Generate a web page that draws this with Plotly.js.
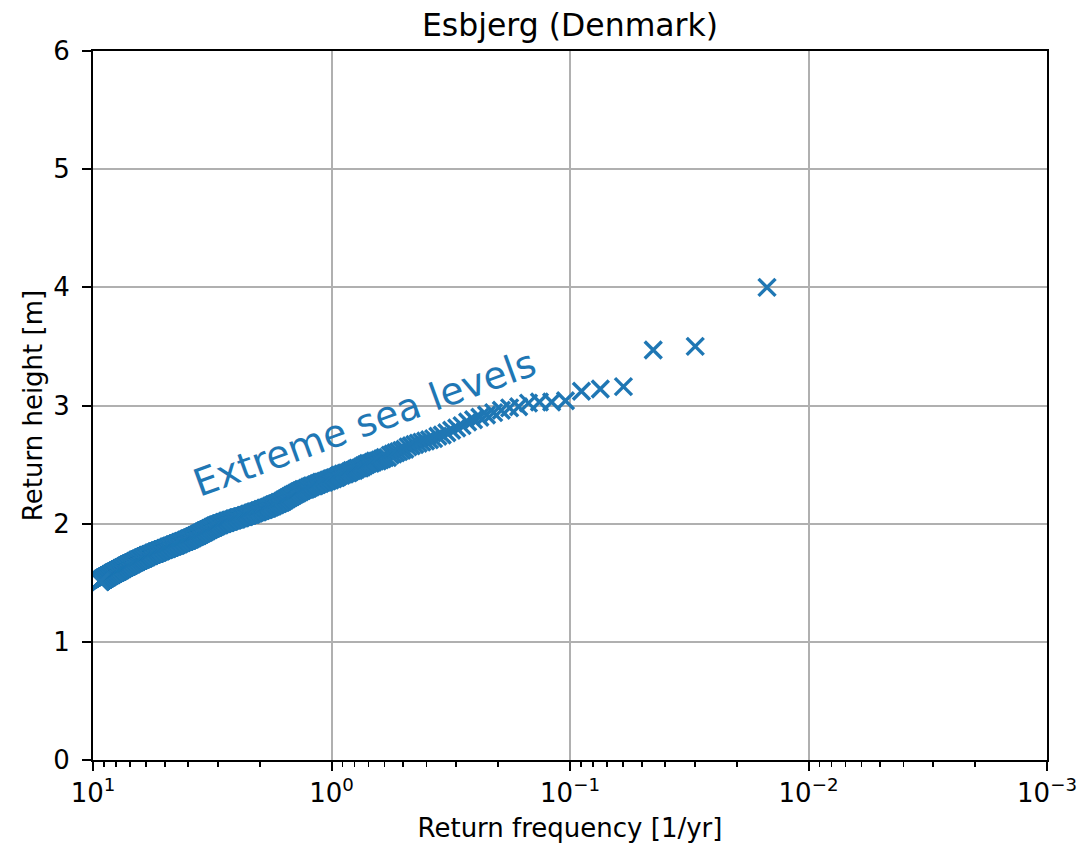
<!DOCTYPE html>
<html>
<head>
<meta charset="utf-8">
<script src="https://cdn.plot.ly/plotly-3.0.1.min.js"></script>
<style>html,body{margin:0;padding:0;background:#fff;}#chart{width:1081px;height:846px;}</style>
</head>
<body>
<div id="chart"></div>
<script>
// Observed extreme sea levels (m), sorted from highest to lowest, with number of events at each level
const levels = [
  4.00,3.50,3.47,3.16,3.14,3.12,3.04,3.03,3.02,2.99,
  2.98,2.96,2.94,2.92,2.90,2.88,2.86,2.83,2.81,2.79,
  2.77,2.75,2.74,2.72,2.71,2.70,2.69,2.68,2.67,2.66,
  2.65,2.63,2.62,2.61,2.60,2.59,2.58,2.56,2.55,2.54,
  2.53,2.52,2.51,2.50,2.49,2.48,2.47,2.46,2.45,2.44,
  2.43,2.42,2.41,2.40,2.39,2.38,2.37,2.36,2.35,2.34,
  2.33,2.32,2.31,2.30,2.29,2.28,2.27,2.26,2.25,2.24,
  2.23,2.22,2.21,2.20,2.19,2.18,2.17,2.16,2.15,2.14,
  2.13,2.12,2.11,2.10,2.09,2.08,2.07,2.06,2.05,2.04,
  2.03,2.02,2.01,2.00,1.99,1.98,1.97,1.96,1.95,1.94,
  1.93,1.92,1.91,1.90,1.89,1.88,1.87,1.86,1.85,1.84,
  1.83,1.82,1.81,1.80,1.79,1.78,1.77,1.76,1.75,1.74,
  1.73,1.72,1.71,1.70,1.69,1.68,1.67,1.66,1.65,1.64,
  1.63,1.62,1.61,1.60,1.59,1.58,1.57,1.56,1.55,1.54,
  1.53,1.52,1.51
];
const counts = [
  1,1,1,1,1,1,1,2,1,1,
  1,1,1,1,1,1,1,1,1,1,
  1,1,1,1,1,1,1,1,1,1,
  1,1,1,1,1,1,1,2,1,1,
  2,1,2,1,1,1,2,1,2,1,
  2,2,2,1,2,2,2,2,3,2,
  2,3,2,2,3,2,2,2,2,2,
  2,2,2,2,2,3,3,3,3,3,
  4,4,4,5,4,5,5,6,6,6,
  6,6,6,6,6,5,5,5,5,5,
  5,5,5,6,6,6,7,7,8,8,
  8,9,9,9,10,10,10,10,11,10,
  11,10,10,10,11,10,10,11,10,11,
  10,11,11,11,12,11,12,11,12,11,
  11,8,4
];
const recordYears = 67;

const xTickVals = [10, 1, 0.1, 0.01, 0.001];
const xTickText = ['10<sup>1</sup>', '10<sup>0</sup>', '10<sup>\u22121</sup>', '10<sup>\u22122</sup>', '10<sup>\u22123</sup>'];
const xMinorVals = [
  9,8,7,6,5,4,3,2,
  0.9,0.8,0.7,0.6,0.5,0.4,0.3,0.2,
  0.09,0.08,0.07,0.06,0.05,0.04,0.03,0.02,
  0.009,0.008,0.007,0.006,0.005,0.004,0.003,0.002
];
const yTickVals = [0, 1, 2, 3, 4, 5, 6];

// Expand to individual events; return frequency = rank / record length
const heights = [];
levels.forEach((h, i) => { for (let c = 0; c < counts[i]; c++) heights.push(h); });
const freqs = heights.map((h, i) => (i + 1) / recordYears);

const blue = '#1f77b4';
const font = 'DejaVu Sans, Verdana, sans-serif';

const trace = {
  type: 'scatter', mode: 'markers',
  x: freqs, y: heights,
  marker: { symbol: 'x-thin-open', size: 17, color: blue, line: { color: blue, width: 3.4 } },
  cliponaxis: true, hoverinfo: 'skip', showlegend: false
};

const axisCommon = {
  showline: true, linecolor: '#000', linewidth: 2, mirror: true,
  ticks: 'outside', ticklen: 9, tickwidth: 2, tickcolor: '#000',
  showgrid: true, gridcolor: '#b0b0b0', gridwidth: 2, zeroline: false,
  tickfont: { family: font, size: 26, color: '#000' }
};

const layout = {
  width: 1081, height: 846,
  margin: { l: 93, r: 34, t: 51, b: 86, pad: 0 },
  paper_bgcolor: '#fff', plot_bgcolor: '#fff',
  font: { family: font, color: '#000' },
  title: {
    text: 'Esbjerg (Denmark)', font: { family: font, size: 31.5, color: '#000' },
    xref: 'container', x: 0.5273, xanchor: 'center',
    yref: 'container', y: 0.9705, yanchor: 'middle'
  },
  xaxis: Object.assign({}, axisCommon, {
    type: 'log', autorange: false, range: [1, -3],
    tickmode: 'array', tickvals: xTickVals, ticktext: xTickText,
    ticklabelstandoff: 0,
    minor: { tickmode: 'array', tickvals: xMinorVals, ticks: 'outside', ticklen: 5, tickwidth: 1.6, tickcolor: '#000', showgrid: false },
    title: { text: 'Return frequency [1/yr]', font: { family: font, size: 26, color: '#000' }, standoff: 12 }
  }),
  yaxis: Object.assign({}, axisCommon, {
    autorange: false, range: [0, 6],
    tickmode: 'array', tickvals: yTickVals,
    ticklabelstandoff: 7,
    title: { text: 'Return height [m]', font: { family: font, size: 26, color: '#000' }, standoff: 3 }
  }),
  annotations: [{
    text: 'Extreme sea levels', showarrow: false,
    xref: 'paper', yref: 'paper', x: 0.285, y: 0.476,
    xanchor: 'center', yanchor: 'middle', textangle: -20,
    font: { family: font, size: 38, color: blue }
  }]
};

Plotly.newPlot('chart', [trace], layout, { displayModeBar: false, staticPlot: true });
</script>
</body>
</html>
